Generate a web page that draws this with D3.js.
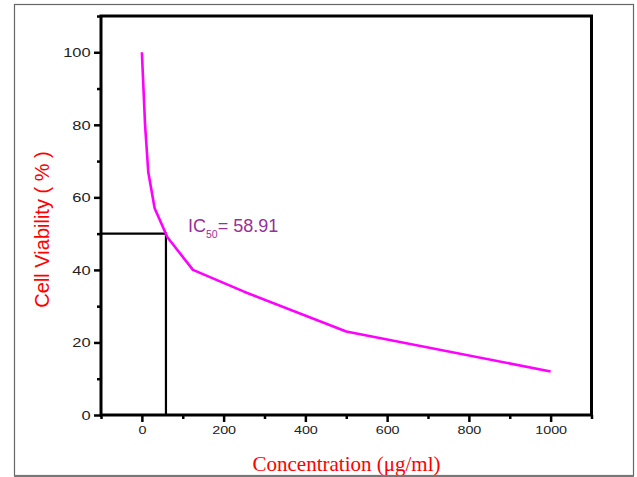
<!DOCTYPE html>
<html>
<head>
<meta charset="utf-8">
<script src="https://cdn.jsdelivr.net/npm/d3@7"></script>
<style>
  html, body { margin: 0; padding: 0; background: #fff; }
  svg { display: block; }
</style>
</head>
<body>
<script>
// Dose–response data: concentration (µg/ml) vs. cell viability (%)
const concentrations = [0, 7.8, 15.6, 31.25, 62.5, 125, 250, 500, 1000];
const viability = [100, 80, 67, 57, 49, 40, 34, 23, 12];

// IC50 marker
const ic50Value = 58.91;
const ic50Level = 50;

// Axis ticks
const xMajorTicks = [0, 200, 400, 600, 800, 1000];
const xMinorTicks = [-100, 100, 300, 500, 700, 900, 1100];
const yMajorTicks = [0, 20, 40, 60, 80, 100];
const yMinorTicks = [10, 30, 50, 70, 90, 110];

const W = 637, H = 477;
const svg = d3.select("body").append("svg")
  .attr("width", W).attr("height", H);

svg.append("rect").attr("width", W).attr("height", H).attr("fill", "#fff");

const x = d3.scaleLinear().domain([-100, 1100]).range([101, 591.5]);
const y = d3.scaleLinear().domain([0, 110]).range([415, 16]);

const points = concentrations.map((c, i) => ({ c, v: viability[i] }));

// IC50 guide lines
svg.append("path")
  .attr("d", d3.line()([[x(-100), y(ic50Level)], [x(ic50Value), y(ic50Level)], [x(ic50Value), y(0)]]))
  .attr("fill", "none").attr("stroke", "#000").attr("stroke-width", 2.2);

// Viability curve
svg.append("path")
  .datum(points)
  .attr("d", d3.line().x(d => x(d.c)).y(d => y(d.v)))
  .attr("fill", "none")
  .attr("stroke", "#ff00ff")
  .attr("stroke-width", 2.6)
  .attr("stroke-linejoin", "round");

// Axes
const tickFont = "'Liberation Sans', Arial, sans-serif";

const xAxis = svg.append("g").attr("transform", `translate(0,${y(0)})`);
xAxis.call(d3.axisBottom(x).tickValues(xMajorTicks).tickSize(7).tickPadding(4).tickFormat(d3.format("d")));
const xMinor = svg.append("g").attr("transform", `translate(0,${y(0)})`);
xMinor.call(d3.axisBottom(x).tickValues(xMinorTicks).tickSize(4).tickFormat(""));

const yAxis = svg.append("g").attr("transform", `translate(${x(-100)},0)`);
yAxis.call(d3.axisLeft(y).tickValues(yMajorTicks).tickSize(7).tickPadding(2).tickFormat(d3.format("d")));
const yMinor = svg.append("g").attr("transform", `translate(${x(-100)},0)`);
yMinor.call(d3.axisLeft(y).tickValues(yMinorTicks).tickSize(4).tickFormat(""));

[xAxis, xMinor, yAxis, yMinor].forEach(g => {
  g.select(".domain").remove();
  g.selectAll(".tick line").attr("stroke", "#000").attr("stroke-width", 2.5);
});

xAxis.selectAll(".tick text")
  .attr("font-family", tickFont).attr("font-size", 11.5).attr("fill", "#222")
  .attr("transform", "scale(1.25,1)");
yAxis.selectAll(".tick text")
  .attr("font-family", tickFont).attr("font-size", 13.5).attr("fill", "#222")
  .attr("x", -8.5)
  .attr("transform", "scale(1.22,1)");

// Plot frame
svg.append("rect")
  .attr("x", x(-100)).attr("y", y(110))
  .attr("width", x(1100) - x(-100)).attr("height", y(0) - y(110))
  .attr("fill", "none").attr("stroke", "#000").attr("stroke-width", 3);

// IC50 annotation
const ic = svg.append("text")
  .attr("x", 188).attr("y", 231.5)
  .attr("font-family", tickFont).attr("font-size", 18).attr("fill", "#992f99");
ic.append("tspan").text("IC");
ic.append("tspan").attr("font-size", 10.5).attr("dy", 6).text("50");
ic.append("tspan").attr("dy", -6).text("= " + ic50Value.toFixed(2));

// Axis titles
svg.append("text")
  .attr("transform", "translate(49,229.5) rotate(-90)")
  .attr("text-anchor", "middle")
  .attr("font-family", tickFont).attr("font-size", 20).attr("fill", "#ff0000")
  .text("Cell Viability ( % )");

svg.append("text")
  .attr("x", 346.5).attr("y", 471)
  .attr("text-anchor", "middle")
  .attr("font-family", "'Liberation Serif', 'Times New Roman', serif")
  .attr("font-size", 21).attr("fill", "#ff0000")
  .text("Concentration (\u03bcg/ml)");

// Outer border
svg.append("rect")
  .attr("x", 14.5).attr("y", 4.5).attr("width", 619).attr("height", 471)
  .attr("fill", "none").attr("stroke", "#666").attr("stroke-width", 1.2);
svg.append("line")
  .attr("x1", 14).attr("x2", 634).attr("y1", 476).attr("y2", 476)
  .attr("stroke", "#777").attr("stroke-width", 2);
</script>
</body>
</html>
